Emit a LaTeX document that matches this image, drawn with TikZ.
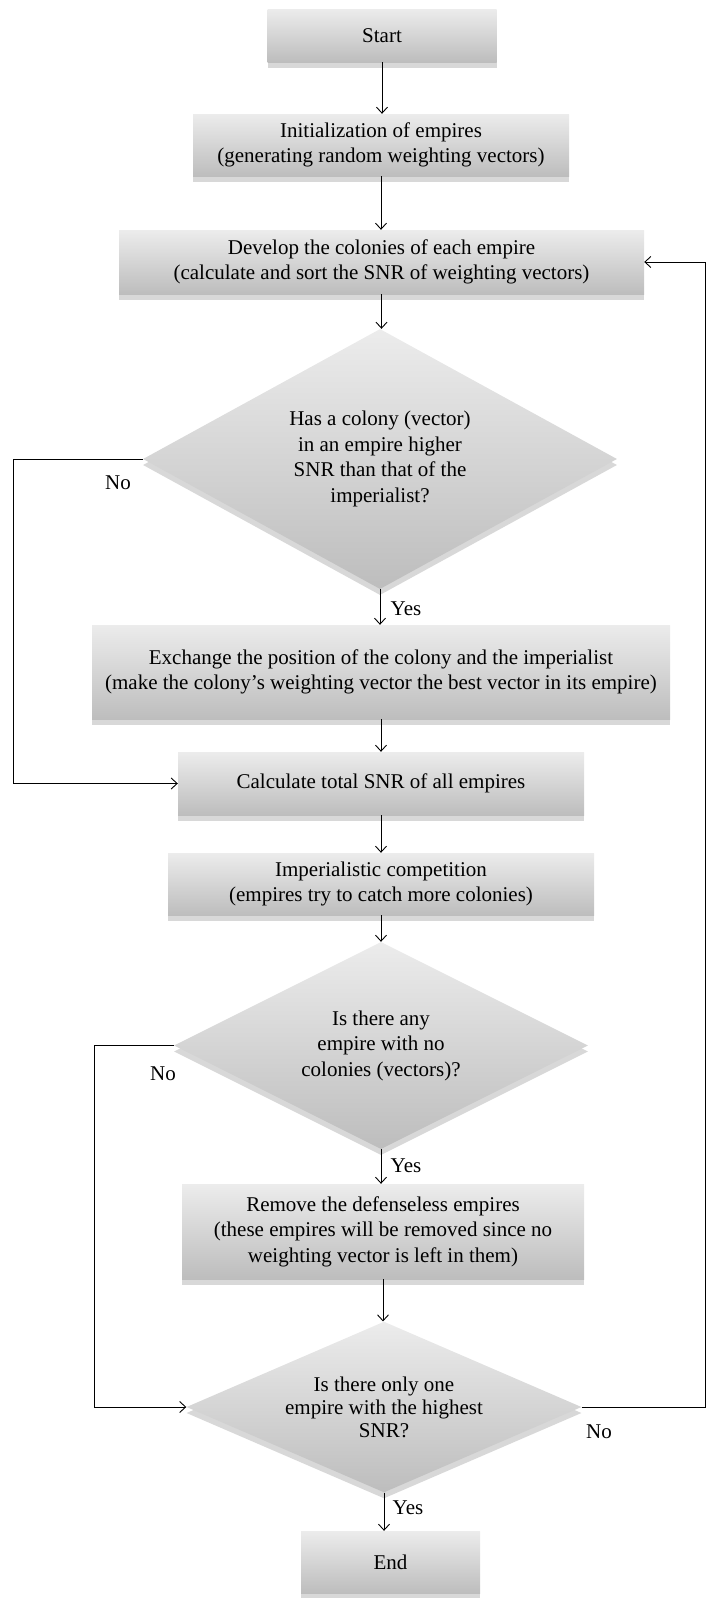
\documentclass[tikz,border=0pt]{standalone}
\usepackage{fontspec}
\setmainfont{Liberation Serif}
\usetikzlibrary{arrows.meta,shapes,shadows,positioning}
\definecolor{boxtop}{HTML}{ECECEC}
\definecolor{boxbot}{HTML}{BDBDBD}
\definecolor{boxshade}{HTML}{D8D8D8}
\tikzset{
  stepbox/.style={rectangle, top color=boxtop, bottom color=boxbot,
    general shadow={fill=boxshade, shadow yshift=-6pt},
    align=center, inner sep=0pt},
  query/.style={diamond, top color=boxtop, bottom color=boxbot,
    general shadow={fill=boxshade, shadow yshift=-6pt},
    align=center, inner sep=0pt, aspect=1.8},
  flow/.style={line width=0.9pt, ->}
}

\begin{document}
\begin{tikzpicture}[x=1pt, y=-1pt, >={Straight Barb[length=6pt,width=11pt]},
  font=\fontsize{21}{25.5}\selectfont]
\useasboundingbox (0,0) rectangle (706,1598);

\node [stepbox, minimum width=229pt, minimum height=53pt] (start) at (382,35.5) {Start};
\node [stepbox, minimum width=376pt, minimum height=62pt] (init) at (381,145) {Initialization of empires\\(generating random weighting vectors)};
\node [stepbox, minimum width=525pt, minimum height=64pt] (develop) at (381.5,262) {Develop the colonies of each empire\\(calculate and sort the SNR of weighting vectors)};
\node [query, minimum width=474pt, minimum height=260pt] (d1) at (380,459) {Has a colony (vector)\\in an empire higher\\SNR than that of the\\imperialist?};
\node [stepbox, minimum width=578pt, minimum height=94pt] (exchange) at (381,672) {Exchange the position of the colony and the imperialist\\(make the colony’s weighting vector the best vector in its empire)};
\node [stepbox, minimum width=406pt, minimum height=63pt] (calc) at (381,783.5) {Calculate total SNR of all empires};
\node [stepbox, minimum width=426pt, minimum height=62pt] (imp) at (381,884) {Imperialistic competition\\(empires try to catch more colonies)};
\node [query, minimum width=414pt, minimum height=207pt] (d2) at (381,1045.5) {Is there any\\empire with no\\colonies (vectors)?};
\node [stepbox, minimum width=402pt, minimum height=95pt] (remove) at (383,1231.5) {Remove the defenseless empires\\(these empires will be removed since no\\weighting vector is left in them)};
\node [query, minimum width=395pt, minimum height=165pt, font=\fontsize{21}{23}\selectfont] (d3) at (384,1407) {Is there only one\\empire with the highest\\SNR?};
\node [stepbox, minimum width=179pt, minimum height=62pt] (end) at (390.5,1562) {End};

\foreach \a/\b in {start/init, init/develop, develop/d1, d1/exchange, exchange/calc, calc/imp, imp/d2, d2/remove, remove/d3, d3/end}
  \draw [flow] (\a.south) -- (\a.south |- \b.north);

\coordinate (leftA) at (13,0);
\coordinate (leftB) at (94,0);
\coordinate (rightA) at (705.5,0);
\draw [flow] (d1.west) -- (d1.west -| leftA) |- (calc.west);
\draw [flow] (d2.west) -- (d2.west -| leftB) |- (d3.west);
\draw [flow] (d3.east) -- (d3.east -| rightA) |- (develop.east);

\node (no1) at (118,483) {No};
\node (yes1) at (406,609) {Yes};
\node (no2) at (163,1074) {No};
\node (yes2) at (406,1166) {Yes};
\node (no3) at (599,1432) {No};
\node (yes3) at (408,1508) {Yes};
\end{tikzpicture}
\end{document}
